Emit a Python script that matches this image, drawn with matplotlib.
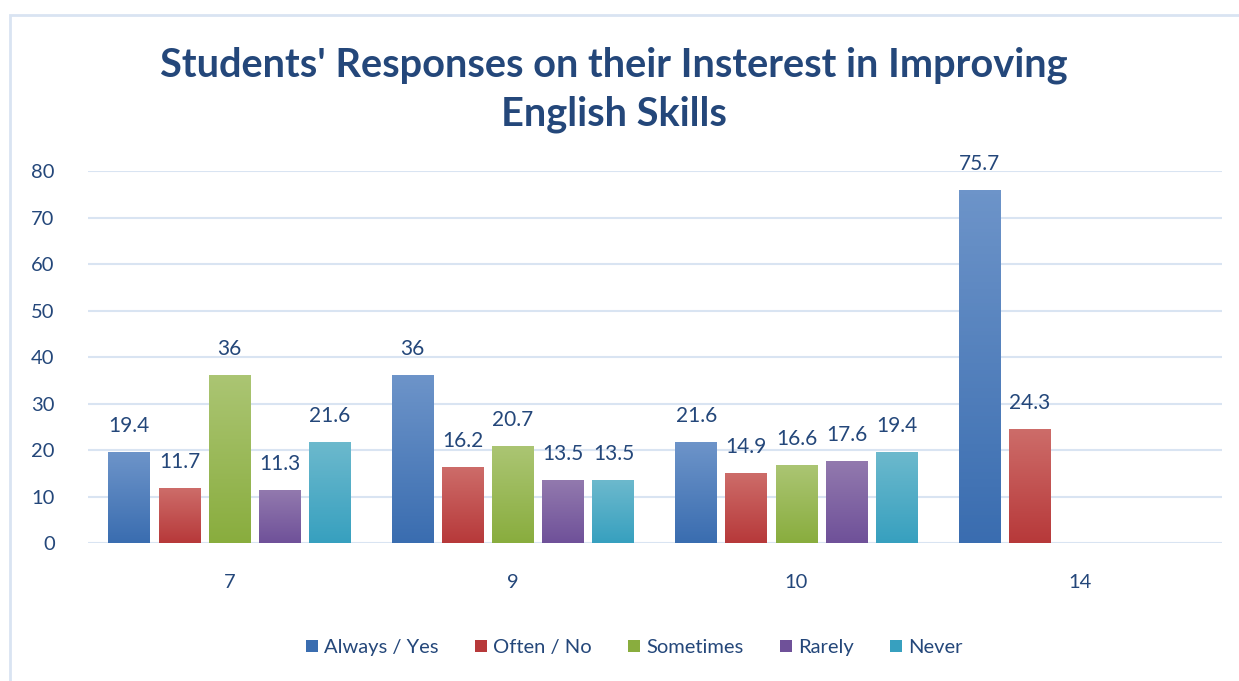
import numpy as np
import matplotlib.pyplot as plt
from matplotlib.patches import Rectangle, Patch
from matplotlib.colors import LinearSegmentedColormap

# Data
groups = ['7', '9', '10', '14']
series = ['Always / Yes', 'Often / No', 'Sometimes', 'Rarely', 'Never']
always = [19.4, 36, 21.6, 75.7]
often = [11.7, 16.2, 14.9, 24.3]
sometimes = [36, 20.7, 16.6, None]
rarely = [11.3, 13.5, 17.6, None]
never = [21.6, 13.5, 19.4, None]
values = [always, often, sometimes, rarely, never]

# (top, bottom) colours for the gradient fill
colors = [('#6d94c9', '#3a6db0'),
          ('#cd6c69', '#b7393a'),
          ('#abc573', '#89ad3e'),
          ('#9279ae', '#6f5199'),
          ('#6cb9cd', '#37a0bf')]
text_color = '#24477a'
grid_color = '#d9e4f2'

plt.rcParams['font.family'] = ['Lato', 'DejaVu Sans']

fig = plt.figure(figsize=(12.39, 6.81), dpi=100)
ax = fig.add_axes([0.071, 0.2026, 0.915, 0.5463])

# outer chart border
fig.patches.append(Rectangle((10 / 1239, -0.1), 1.2, 1.1 - 15 / 681,
                             transform=fig.transFigure, fill=False,
                             edgecolor=grid_color, lw=2))

step = 0.177
width = 0.148
x = np.arange(len(groups))
for i, (name, vals) in enumerate(zip(series, values)):
    top, bottom = colors[i]
    cmap = LinearSegmentedColormap.from_list(name, [bottom, top])
    for j, v in enumerate(vals):
        if v is None:
            continue
        x0 = x[j] + (i - 2) * step - width / 2
        grad = np.linspace(0, 1, 100).reshape(-1, 1)
        ax.imshow(grad, cmap=cmap, origin='lower', aspect='auto',
                  extent=(x0, x0 + width, 0, v), zorder=3)
        ax.annotate(f'{v:g}', (x0 + width / 2, v), xytext=(0, 12),
                    textcoords='offset points', ha='center', va='bottom',
                    fontsize=15, color=text_color)

ax.set_xlim(-0.5, 3.5)
ax.set_ylim(0, 80)
ax.set_yticks(range(0, 81, 10))
ax.set_xticks(x)
ax.set_xticklabels(groups)
ax.tick_params(length=0, labelsize=14.5, labelcolor=text_color)
ax.tick_params(axis='x', pad=22)
ax.tick_params(axis='y', pad=24)
ax.grid(axis='y', color=grid_color, lw=1.5, zorder=0)
ax.set_axisbelow(True)
for s in ax.spines.values():
    s.set_visible(False)

fig.text(0.4956, 0.868, "Students' Responses on their Insterest in Improving\nEnglish Skills",
         ha='center', va='center', fontsize=28.6, fontweight='bold',
         color=text_color, linespacing=1.38)

handles = [Patch(facecolor=c[1], label=n) for n, c in zip(series, colors)]
fig.legend(handles=handles, loc='center', bbox_to_anchor=(0.512, 0.049), ncol=5,
           frameon=False, fontsize=14.5, labelcolor=text_color,
           handlelength=0.6, handleheight=0.6, handletextpad=0.3, columnspacing=1.8)

fig.savefig('out.png', dpi=100)
